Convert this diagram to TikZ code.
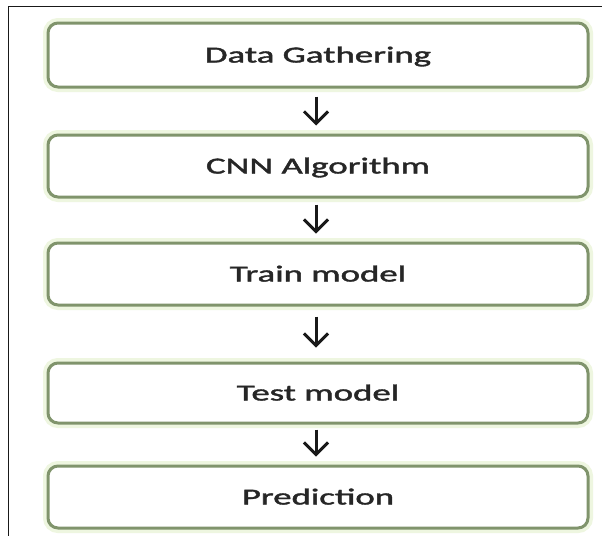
\documentclass[tikz,border=0pt]{standalone}
\usepackage{graphicx}
\usepackage{fontspec}
\setmainfont{Carlito}
\newfontfamily\stagefont[FakeBold=1.4]{Carlito}
\usetikzlibrary{arrows.meta}
\definecolor{boxline}{RGB}{128,148,108}
\definecolor{boxglow}{RGB}{238,246,224}
\definecolor{txt}{RGB}{38,38,38}
\newcommand\stretchtext[1]{\scalebox{1.6}[1]{#1}}
\begin{document}
\begin{tikzpicture}[x=1pt,y=-1pt,
  stage/.style={draw=boxline, line width=3pt, rounded corners=10pt,
    fill=white, preaction={draw=boxglow, line width=10pt},
    minimum width=540pt, inner sep=0pt, text height=15pt, text depth=0pt,
    font=\stagefont\fontsize{23}{23}\selectfont, text=txt},
  flow/.style={line width=3pt, draw=black!90,
    -{Straight Barb[length=12pt,width=24pt,line width=3pt]}}]
  \useasboundingbox (0,0) rectangle (602,536);
  \fill[white] (0,0) rectangle (602,536);

  % outer frame (top and left edges)
  \coordinate (frameTR) at (602,6.5);
  \coordinate (frameTL) at (8.5,6.5);
  \coordinate (frameBL) at (8.5,536);
  \draw[line width=1.5pt, black!90] (frameTR) -- (frameTL) -- (frameBL);

  % process stages
  \node[stage, minimum height=64pt] (gather) at (318,55)  {\stretchtext{Data Gathering}};
  \node[stage, minimum height=62pt] (cnn)    at (318,166) {\stretchtext{CNN Algorithm}};
  \node[stage, minimum height=62pt] (train)  at (318,274) {\stretchtext{Train model}};
  \node[stage, minimum height=60pt] (test)   at (318,393) {\stretchtext{Test model}};
  \node[stage, minimum height=62pt] (pred)   at (318,497) {\stretchtext{Prediction}};

  % flow arrows
  \draw[flow, shorten <=8pt, shorten >=8pt]
    ([xshift=-2pt]gather.south) -- ([xshift=-2pt]cnn.north);
  \draw[flow, shorten <=6pt, shorten >=8pt]
    ([xshift=-2pt]cnn.south) -- ([xshift=-2pt]train.north);
  \draw[flow, shorten <=10pt, shorten >=14pt]
    ([xshift=-2pt]train.south) -- ([xshift=-2pt]test.north);
  \draw[flow, shorten <=5pt, shorten >=8pt]
    ([xshift=-2pt]test.south) -- ([xshift=-2pt]pred.north);
\end{tikzpicture}
\end{document}
